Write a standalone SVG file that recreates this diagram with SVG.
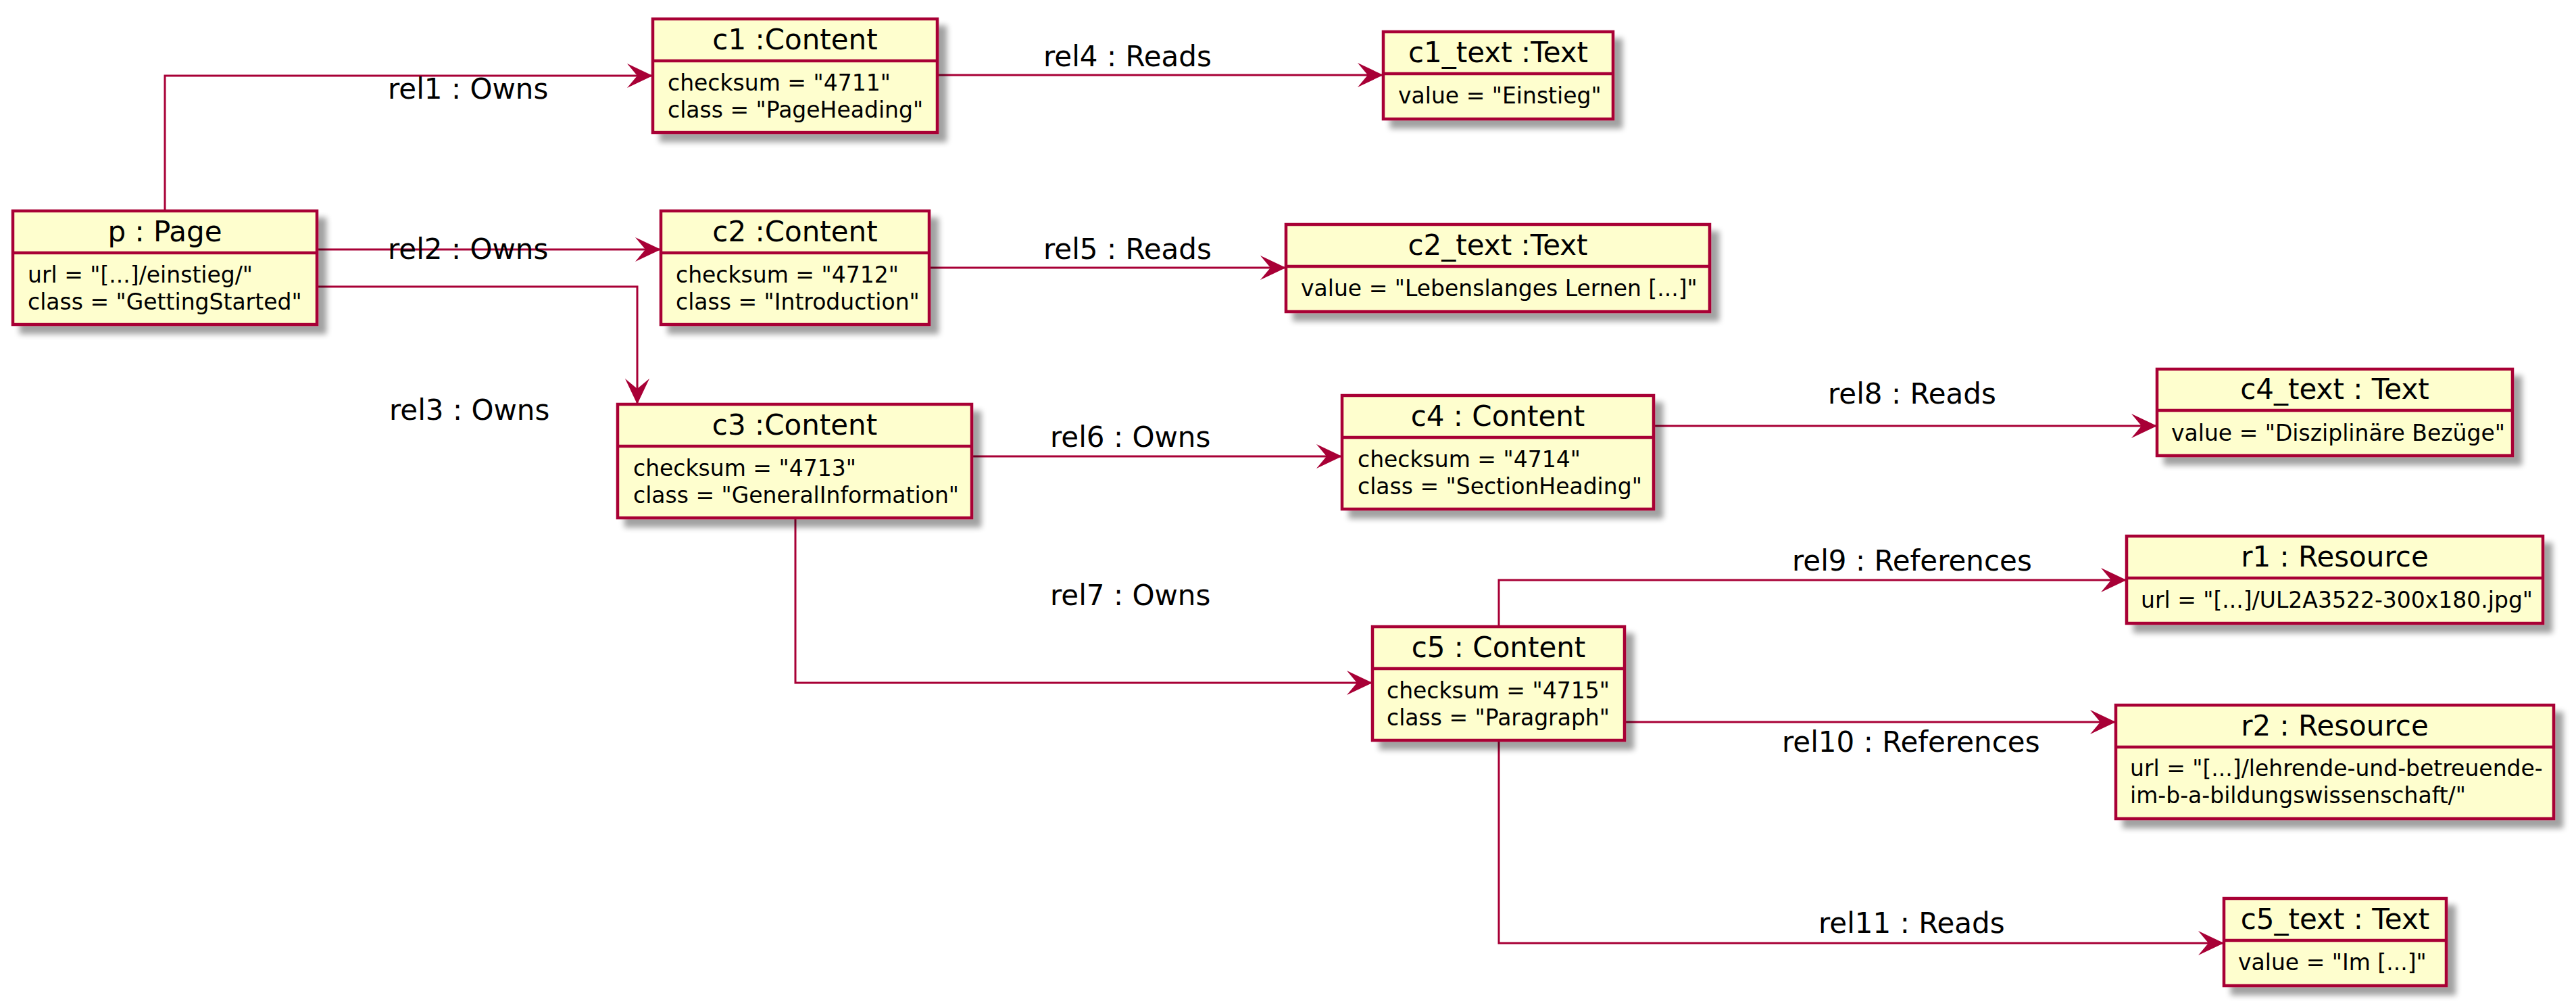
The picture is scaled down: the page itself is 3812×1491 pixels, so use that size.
<svg xmlns="http://www.w3.org/2000/svg" width="3812" height="1491" viewBox="0 0 3812 1491">
<style>
.b rect{fill:#FEFECE;stroke:#A80036;stroke-width:4.5}
.b line{stroke:#A80036;stroke-width:4.5}
.t{font-family:"DejaVu Sans","Liberation Sans",sans-serif;font-size:42px;fill:#000;text-anchor:middle}
.a{font-family:"DejaVu Sans","Liberation Sans",sans-serif;font-size:33px;fill:#000}
.l{font-family:"DejaVu Sans","Liberation Sans",sans-serif;font-size:42px;fill:#000}
.c path{fill:none;stroke:#A80036;stroke-width:3;marker-end:url(#ah)}
</style>
<defs>
<filter id="sh" x="-5%" y="-10%" width="120%" height="140%">
<feGaussianBlur in="SourceAlpha" stdDeviation="4"/>
<feOffset dx="12" dy="12"/>
<feComponentTransfer><feFuncA type="linear" slope="0.37"/></feComponentTransfer>
<feMerge><feMergeNode/><feMergeNode in="SourceGraphic"/></feMerge>
</filter>
<marker id="ah" markerUnits="userSpaceOnUse" markerWidth="40" markerHeight="38" viewBox="0 0 40 38" refX="39" refY="19" orient="auto">
<polygon points="1,1 39,19 1,37 16,19" fill="#A80036"/>
</marker>
</defs>
<rect width="3812" height="1491" fill="#FFFFFF"/>

<g id="connectors" class="c">
<path d="M244,312 V112 H966"/>
<path d="M469,369 H978"/>
<path d="M469,424 H943 V598"/>
<path d="M1387,111 H2047"/>
<path d="M1375,396 H1903"/>
<path d="M1438,675 H1986"/>
<path d="M1177,766 V1010 H2031"/>
<path d="M2447,630 H3192"/>
<path d="M2218,927 V858 H3147"/>
<path d="M2404,1068 H3131"/>
<path d="M2218,1095 V1395 H3291"/>
</g>
<g id="labels">
<text class="l" x="574" y="146">rel1 : Owns</text>
<text class="l" x="574" y="383">rel2 : Owns</text>
<text class="l" x="576" y="621">rel3 : Owns</text>
<text class="l" x="1544" y="98">rel4 : Reads</text>
<text class="l" x="1544" y="383">rel5 : Reads</text>
<text class="l" x="1554" y="661">rel6 : Owns</text>
<text class="l" x="1554" y="895">rel7 : Owns</text>
<text class="l" x="2705" y="597">rel8 : Reads</text>
<text class="l" x="2652" y="844">rel9 : References</text>
<text class="l" x="2637" y="1112">rel10 : References</text>
<text class="l" x="2691" y="1380">rel11 : Reads</text>
</g>

<g id="p" class="b">
<rect x="19" y="312" width="450" height="168" filter="url(#sh)"/>
<line x1="19" y1="374" x2="469" y2="374"/>
<text class="t" x="244" y="357">p : Page</text>
<text class="a" x="41" y="418">url = "[...]/einstieg/"</text>
<text class="a" x="41" y="458">class = "GettingStarted"</text>
</g>
<g id="c1" class="b">
<rect x="966" y="28" width="421" height="168" filter="url(#sh)"/>
<line x1="966" y1="90" x2="1387" y2="90"/>
<text class="t" x="1176.5" y="73">c1 :Content</text>
<text class="a" x="988" y="134">checksum = "4711"</text>
<text class="a" x="988" y="174">class = "PageHeading"</text>
</g>
<g id="c2" class="b">
<rect x="978" y="312" width="397" height="168" filter="url(#sh)"/>
<line x1="978" y1="374" x2="1375" y2="374"/>
<text class="t" x="1176.5" y="357">c2 :Content</text>
<text class="a" x="1000" y="418">checksum = "4712"</text>
<text class="a" x="1000" y="458">class = "Introduction"</text>
</g>
<g id="c3" class="b">
<rect x="914" y="598" width="524" height="168" filter="url(#sh)"/>
<line x1="914" y1="660" x2="1438" y2="660"/>
<text class="t" x="1176" y="643">c3 :Content</text>
<text class="a" x="937" y="704">checksum = "4713"</text>
<text class="a" x="937" y="744">class = "GeneralInformation"</text>
</g>
<g id="c4" class="b">
<rect x="1986" y="585" width="461" height="168" filter="url(#sh)"/>
<line x1="1986" y1="647" x2="2447" y2="647"/>
<text class="t" x="2216.5" y="630">c4 : Content</text>
<text class="a" x="2009" y="691">checksum = "4714"</text>
<text class="a" x="2009" y="731">class = "SectionHeading"</text>
</g>
<g id="c5" class="b">
<rect x="2031" y="927" width="373" height="168" filter="url(#sh)"/>
<line x1="2031" y1="989" x2="2404" y2="989"/>
<text class="t" x="2217.5" y="972">c5 : Content</text>
<text class="a" x="2052" y="1033">checksum = "4715"</text>
<text class="a" x="2052" y="1073">class = "Paragraph"</text>
</g>
<g id="c1_text" class="b">
<rect x="2047" y="47" width="340" height="129" filter="url(#sh)"/>
<line x1="2047" y1="109" x2="2387" y2="109"/>
<text class="t" x="2217" y="92">c1_text :Text</text>
<text class="a" x="2069" y="153">value = "Einstieg"</text>
</g>
<g id="c2_text" class="b">
<rect x="1903" y="332" width="627" height="129" filter="url(#sh)"/>
<line x1="1903" y1="394" x2="2530" y2="394"/>
<text class="t" x="2216.5" y="377">c2_text :Text</text>
<text class="a" x="1925" y="438">value = "Lebenslanges Lernen [...]"</text>
</g>
<g id="c4_text" class="b">
<rect x="3192" y="546" width="526" height="128" filter="url(#sh)"/>
<line x1="3192" y1="607" x2="3718" y2="607"/>
<text class="t" x="3455" y="590">c4_text : Text</text>
<text class="a" x="3213" y="652">value = "Disziplinäre Bezüge"</text>
</g>
<g id="r1" class="b">
<rect x="3147" y="793" width="616" height="129" filter="url(#sh)"/>
<line x1="3147" y1="855" x2="3763" y2="855"/>
<text class="t" x="3455" y="838">r1 : Resource</text>
<text class="a" x="3168" y="899">url = "[...]/UL2A3522-300x180.jpg"</text>
</g>
<g id="r2" class="b">
<rect x="3131" y="1043" width="648" height="168" filter="url(#sh)"/>
<line x1="3131" y1="1105" x2="3779" y2="1105"/>
<text class="t" x="3455" y="1088">r2 : Resource</text>
<text class="a" x="3152" y="1148">url = "[...]/lehrende-und-betreuende-</text>
<text class="a" x="3152" y="1188">im-b-a-bildungswissenschaft/"</text>
</g>
<g id="c5_text" class="b">
<rect x="3291" y="1329" width="329" height="129" filter="url(#sh)"/>
<line x1="3291" y1="1391" x2="3620" y2="1391"/>
<text class="t" x="3455.5" y="1374">c5_text : Text</text>
<text class="a" x="3312" y="1435">value = "Im [...]"</text>
</g>
</svg>
